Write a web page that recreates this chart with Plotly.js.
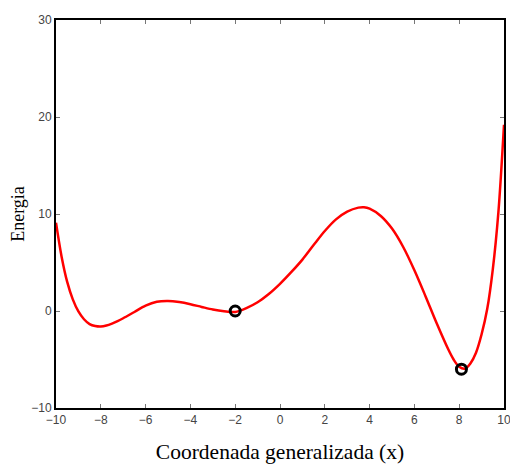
<!DOCTYPE html>
<html>
<head>
<meta charset="utf-8">
<script src="https://cdn.plot.ly/plotly-3.0.1.min.js"></script>
<style>html,body{margin:0;padding:0;background:#fff;}#chart{width:510px;height:464px;}</style>
</head>
<body>
<div id="chart"></div>
<script>
// Curve points
const curveX = [-10, -9.75, -9.5, -9.25, -9, -8.75, -8.5, -8.25, -8, -7.75, -7.5, -7.25, -7, -6.5, -6, -5.5, -5, -4.5, -4, -3.5, -3, -2.5, -2, -1.5, -1, -0.5, 0, 0.5, 1, 1.5, 2, 2.5, 3, 3.5, 3.75, 4, 4.5, 5, 5.5, 6, 6.5, 7, 7.5, 7.75, 8, 8.25, 8.5, 8.75, 9, 9.25, 9.5, 9.75, 10];
const curveY = [9.1, 5.6, 3.0, 1.2, -0.05, -0.85, -1.35, -1.55, -1.6, -1.5, -1.3, -1.05, -0.75, -0.1, 0.55, 0.95, 1.03, 0.92, 0.7, 0.42, 0.15, -0.03, -0.1, 0.3, 0.9, 1.75, 2.8, 4.0, 5.3, 6.8, 8.25, 9.45, 10.25, 10.66, 10.7, 10.55, 9.8, 8.5, 6.6, 4.2, 1.5, -1.3, -3.9, -5.0, -5.75, -5.95, -5.4, -4.3, -2.4, 0.2, 4.3, 10.2, 19.2];
// Marked points (open circles)
const markX = [-2, 8.1];
const markY = [0, -6];

const tickFont = {family: 'Liberation Sans, Arial, sans-serif', size: 12, color: '#444'};

const data = [
  {x: curveX, y: curveY, type: 'scatter', mode: 'lines',
   line: {color: '#ff0000', width: 2.5, shape: 'spline', smoothing: 0.9}, hoverinfo: 'skip'},
  {x: markX, y: markY, type: 'scatter', mode: 'markers',
   marker: {symbol: 'circle-open', size: 10, color: '#000', line: {width: 3, color: '#000'}}}
];

const layout = {
  width: 510, height: 464,
  margin: {l: 56, r: 6, t: 20, b: 56},
  paper_bgcolor: '#fff', plot_bgcolor: '#fff',
  showlegend: false,
  xaxis: {
    range: [-10, 10], tickvals: [-10, -8, -6, -4, -2, 0, 2, 4, 6, 8, 10],
    showgrid: false, zeroline: false,
    showline: true, linecolor: '#000', linewidth: 2, mirror: 'ticks',
    ticks: 'inside', ticklen: 4, tickwidth: 1, tickcolor: '#777',
    tickfont: tickFont, ticklabeloverflow: 'allow',
    title: {text: 'Coordenada generalizada (x)', font: {family: 'Liberation Serif, Times New Roman, serif', size: 21.5, color: '#000'}, standoff: 18}
  },
  yaxis: {
    range: [-10, 30], tickvals: [-10, 0, 10, 20, 30],
    showgrid: false, zeroline: false,
    showline: true, linecolor: '#000', linewidth: 2, mirror: 'ticks',
    ticks: 'inside', ticklen: 4, tickwidth: 1, tickcolor: '#777',
    tickfont: tickFont,
    title: {text: 'Energia', font: {family: 'Liberation Serif, Times New Roman, serif', size: 18, color: '#000'}, standoff: 2}
  }
};

Plotly.newPlot('chart', data, layout, {displayModeBar: false, staticPlot: true});
</script>
</body>
</html>
